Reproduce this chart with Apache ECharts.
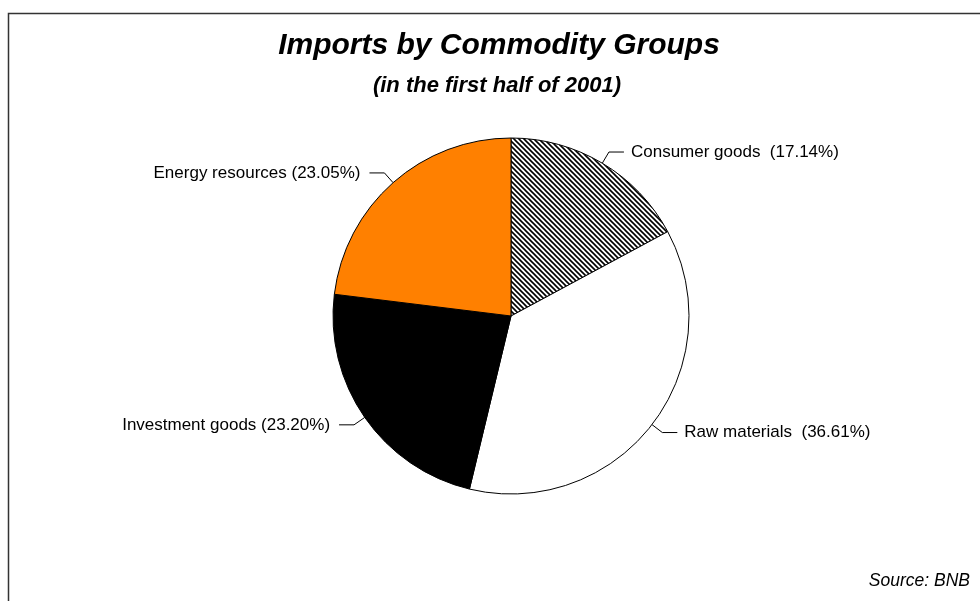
<!DOCTYPE html>
<html>
<head>
<meta charset="utf-8">
<script src="https://cdn.jsdelivr.net/npm/echarts@6/dist/echarts.min.js"></script>
<style>
  html, body { margin: 0; padding: 0; background: #fff; }
  #chart { width: 980px; height: 601px; }
</style>
</head>
<body>
<div id="chart"></div>
<script>
// Commodity groups and their shares of imports (%), clockwise from 12 o'clock
const groups = ['Consumer goods', 'Raw materials', 'Investment goods', 'Energy resources'];
const shares = [17.14, 36.61, 23.20, 23.05];
// Right-hand labels carry an extra space before the percentage
const labelGap = ['  ', '  ', ' ', ' '];

// Diagonal hatch used for the consumer goods slice
function hatchPattern() {
  const s = 5;
  const c = document.createElement('canvas');
  c.width = s; c.height = s;
  const g = c.getContext('2d');
  g.fillStyle = '#fff';
  g.fillRect(0, 0, s, s);
  g.strokeStyle = '#000';
  g.lineWidth = 1.6;
  g.beginPath();
  g.moveTo(-1, -1); g.lineTo(s + 1, s + 1);
  g.moveTo(-1, s - 1); g.lineTo(1, s + 1);
  g.moveTo(s - 1, -1); g.lineTo(s + 1, 1);
  g.stroke();
  return c;
}

const fills = [
  { image: hatchPattern(), repeat: 'repeat' },
  '#ffffff',
  '#000000',
  '#ff8000'
];
// gap between each leader line and its text
const labelDist = [7, 7, 9, 9];

const chart = echarts.init(document.getElementById('chart'), null, { renderer: 'canvas' });

chart.setOption({
  animation: false,
  backgroundColor: '#fff',
  graphic: [
    {
      type: 'rect',
      shape: { x: 8.5, y: 13.5, width: 1200, height: 1200 },
      style: { fill: 'none', stroke: '#333', lineWidth: 1.5 },
      z: 100
    },
    {
      type: 'text',
      x: 499, y: 46,
      style: {
        text: 'Imports by Commodity Groups',
        font: 'italic bold 30px "Liberation Sans"',
        fill: '#000',
        align: 'center',
        verticalAlign: 'middle'
      }
    },
    {
      type: 'text',
      x: 497, y: 86,
      style: {
        text: '(in the first half of 2001)',
        font: 'italic bold 22px "Liberation Sans"',
        fill: '#000',
        align: 'center',
        verticalAlign: 'middle'
      }
    },
    {
      type: 'text',
      x: 970, y: 581,
      style: {
        text: 'Source: BNB',
        font: 'italic 17.5px "Liberation Sans"',
        fill: '#000',
        align: 'right',
        verticalAlign: 'middle'
      }
    }
  ],
  series: [{
    type: 'pie',
    center: [511, 316],
    radius: [0, 178],
    startAngle: 90,
    clockwise: true,
    avoidLabelOverlap: false,
    data: groups.map((name, i) => ({
      name: name,
      value: shares[i],
      itemStyle: { color: fills[i] },
      label: { distanceToLabelLine: labelDist[i] }
    })),
    itemStyle: { borderColor: '#000', borderWidth: 1 },
    emphasis: { disabled: true },
    label: {
      show: true,
      position: 'outside',
      fontFamily: 'Liberation Sans',
      fontSize: 17,
      color: '#000',
      formatter: p => p.name + labelGap[p.dataIndex] + '(' + shares[p.dataIndex].toFixed(2) + '%)'
    },
    labelLine: {
      show: true,
      length: 13,
      length2: 15,
      lineStyle: { color: '#000', width: 1 }
    }
  }]
});
</script>
</body>
</html>
